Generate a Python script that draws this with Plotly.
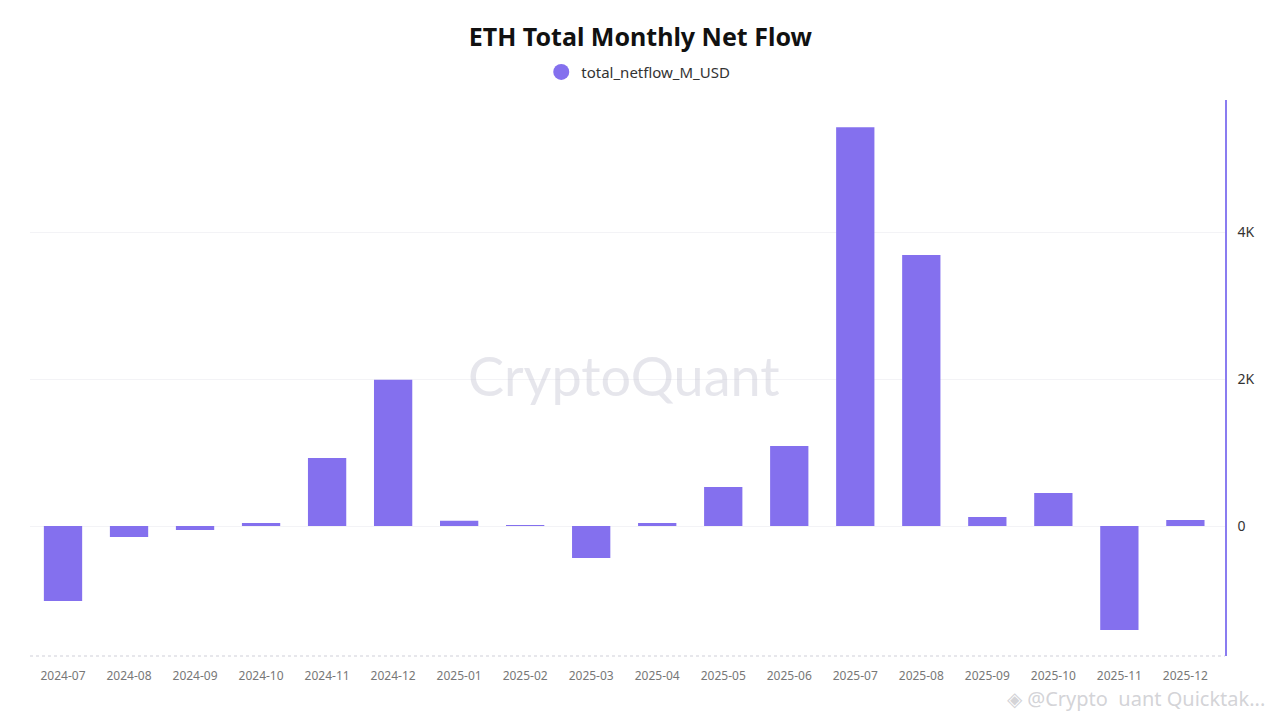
import plotly.graph_objects as go

months = ["2024-07", "2024-08", "2024-09", "2024-10", "2024-11", "2024-12",
          "2025-01", "2025-02", "2025-03", "2025-04", "2025-05", "2025-06",
          "2025-07", "2025-08", "2025-09", "2025-10", "2025-11", "2025-12"]
netflow = [-1020, -150, -55, 40, 925, 1990,
           70, 10, -435, 40, 530, 1090,
           5430, 3690, 122, 450, -1415, 82]
y_ticks = [0, 2000, 4000]
y_tick_labels = ["0", "2K", "4K"]

BAR = "#8470EE"
FONT = "Noto Sans"

fig = go.Figure()
fig.add_trace(go.Bar(x=months, y=netflow, marker=dict(color=BAR, line=dict(width=0)),
                     showlegend=False, name="total_netflow_M_USD"))
fig.add_trace(go.Scatter(x=[months[0]], y=[None], mode="markers",
                         marker=dict(symbol="circle", size=16, color=BAR),
                         name="total_netflow_M_USD", showlegend=True))

fig.update_layout(
    width=1280, height=720,
    paper_bgcolor="white", plot_bgcolor="white",
    margin=dict(l=22, r=63, t=92, b=72),
    bargap=0.42,
    font=dict(family=FONT, color="#333"),
    title=dict(text="<b>ETH Total Monthly Net Flow</b>", x=0.494, xanchor="center",
               y=0.96, yanchor="middle", font=dict(size=25, color="#111", family=FONT)),
    legend=dict(orientation="h", x=0.509, xanchor="center", y=1.05, yanchor="middle",
                font=dict(size=15, color="#333", family=FONT), itemwidth=30),
    xaxis=dict(type="category", showgrid=False, showline=False, zeroline=False, ticks="",
               tickfont=dict(size=12, color="#777", family=FONT), ticklabelstandoff=11,
               range=[-0.5, 17.6]),
    yaxis=dict(side="right", range=[-1770, 5800], tickvals=y_ticks, ticktext=y_tick_labels,
               showgrid=True, gridcolor="#f3f3f6", gridwidth=1, zeroline=True,
               zerolinecolor="#f3f3f6", zerolinewidth=1,
               showline=True, linecolor="#8a7cf0", linewidth=1.5,
               tickfont=dict(size=14, color="#333", family=FONT), ticklabelstandoff=8),
)

# dotted baseline at bottom of plot
fig.add_shape(type="line", xref="paper", yref="paper", x0=0, x1=1, y0=0, y1=0,
              line=dict(color="#cfcfd8", width=1, dash="dot"))

# watermark
fig.add_annotation(text="CryptoQuant", xref="paper", yref="paper", x=0.497, y=0.505,
                   xanchor="center", yanchor="middle",
                   showarrow=False, font=dict(size=54, color="rgba(200,200,212,0.45)", family="Lato"))
fig.add_annotation(text="◈ @Crypto  uant Quicktak...", xref="paper", yref="paper",
                   x=1.035, y=-0.076, xanchor="right", yanchor="middle", showarrow=False,
                   font=dict(size=20, color="rgba(200,200,205,0.8)", family=FONT))

fig.write_html("out.html")
